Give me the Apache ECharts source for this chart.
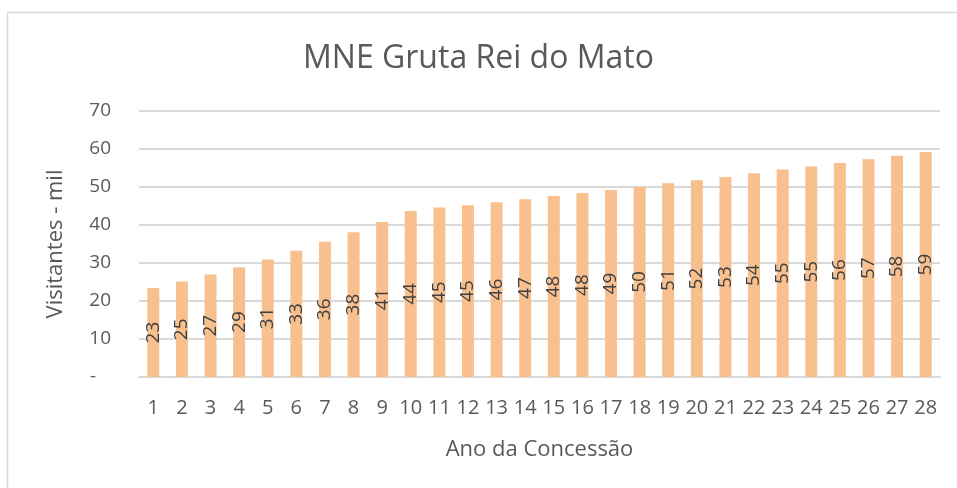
<!DOCTYPE html>
<html>
<head>
<meta charset="utf-8">
<script src="https://cdn.jsdelivr.net/npm/echarts@6/dist/echarts.min.js"></script>
<style>
  html, body { margin: 0; padding: 0; background: #fff; }
  #chart1 { width: 957px; height: 488px; }
</style>
</head>
<body>
<div id="chart1"></div>
<script>
// data
const anos = ['1','2','3','4','5','6','7','8','9','10','11','12','13','14','15','16','17','18','19','20','21','22','23','24','25','26','27','28'];
const visitantes = [23.4, 25.1, 27.0, 28.9, 30.9, 33.2, 35.6, 38.1, 40.8, 43.7, 44.6, 45.2, 46.0, 46.8,
                    47.6, 48.4, 49.2, 50.0, 51.0, 51.8, 52.6, 53.6, 54.6, 55.4, 56.3, 57.3, 58.2, 59.2];
const yTicks = [0, 10, 20, 30, 40, 50, 60, 70];

const font = '"Open Sans", "Noto Sans", sans-serif';

const getOption = ()=> {
    return {
        backgroundColor: '#fff',
        animation: false,
        title: {
            text: 'MNE Gruta Rei do Mato',
            left: 'center',
            top: 38,
            textStyle: { fontFamily: font, fontSize: 32, fontWeight: 'normal', color: '#595959' }
        },
        graphic: [{
            type: 'rect',
            shape: { x: 7.5, y: 12.5, width: 1000, height: 600 },
            style: { fill: 'none', stroke: '#D9D9D9', lineWidth: 1.5 },
            silent: true
        }],
        grid: { left: 139, right: 17, top: 111, bottom: 111 },
        xAxis: {
            type: 'category',
            data: anos,
            name: 'Ano da Concessão',
            nameLocation: 'middle',
            nameGap: 62,
            nameTextStyle: { fontFamily: font, fontSize: 22, color: '#595959' },
            axisLine: { lineStyle: { color: '#D9D9D9', width: 2 } },
            axisTick: { show: false },
            axisLabel: { fontFamily: font, fontSize: 20, color: '#595959', margin: 21, interval: 0 }
        },
        yAxis: {
            type: 'value',
            min: yTicks[0],
            max: yTicks[yTicks.length - 1],
            interval: 10,
            name: 'Visitantes - mil',
            nameLocation: 'middle',
            nameGap: 72,
            nameTextStyle: { fontFamily: font, fontSize: 22, color: '#595959' },
            axisLine: { show: false },
            axisTick: { show: false },
            splitLine: { lineStyle: { color: '#D9D9D9', width: 2 } },
            axisLabel: {
                fontFamily: font, fontSize: 19, color: '#595959', margin: 28,
                formatter: v => v === 0 ? '-   ' : String(v)
            }
        },
        series: [{
            type: 'bar',
            data: visitantes,
            barWidth: 12,
            itemStyle: { color: '#F8C08E' },
            label: {
                show: true,
                position: 'inside',
                rotate: 90,
                fontFamily: font,
                fontSize: 19,
                color: '#404040',
                formatter: p => Math.round(p.value)
            }
        }]
    }
}

let chart1;
document.addEventListener('DOMContentLoaded', function(){
    chart1 = echarts.init(document.getElementById('chart1'));
    chart1.setOption(getOption());
});
</script>
</body>
</html>
